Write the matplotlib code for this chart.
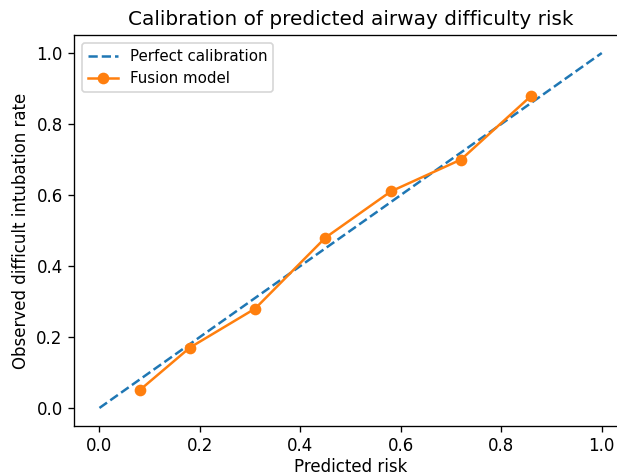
import matplotlib
matplotlib.use("Agg")
import matplotlib.pyplot as plt

# calibration bins: mean predicted risk vs observed rate
pred_risk = [0.08, 0.18, 0.31, 0.45, 0.58, 0.72, 0.86]
observed_rate = [0.05, 0.17, 0.28, 0.48, 0.61, 0.70, 0.88]
diag = [0.0, 1.0]

DPI = 120
fig, ax = plt.subplots(figsize=(617 / DPI, 475 / DPI), dpi=DPI)
ax.plot(diag, diag, "--", label="Perfect calibration")
ax.plot(pred_risk, observed_rate, "o-", label="Fusion model")
ax.set_xlabel("Predicted risk", labelpad=1.5)
ax.set_ylabel("Observed difficult intubation rate")
ax.set_title("Calibration of predicted airway difficulty risk")
ax.legend(fontsize=9)
# right edge of the frame is cut off in the reference
fig.subplots_adjust(left=0.1205, right=1.016, top=0.9257, bottom=0.1038)
fig.savefig("out.png", dpi=DPI)
